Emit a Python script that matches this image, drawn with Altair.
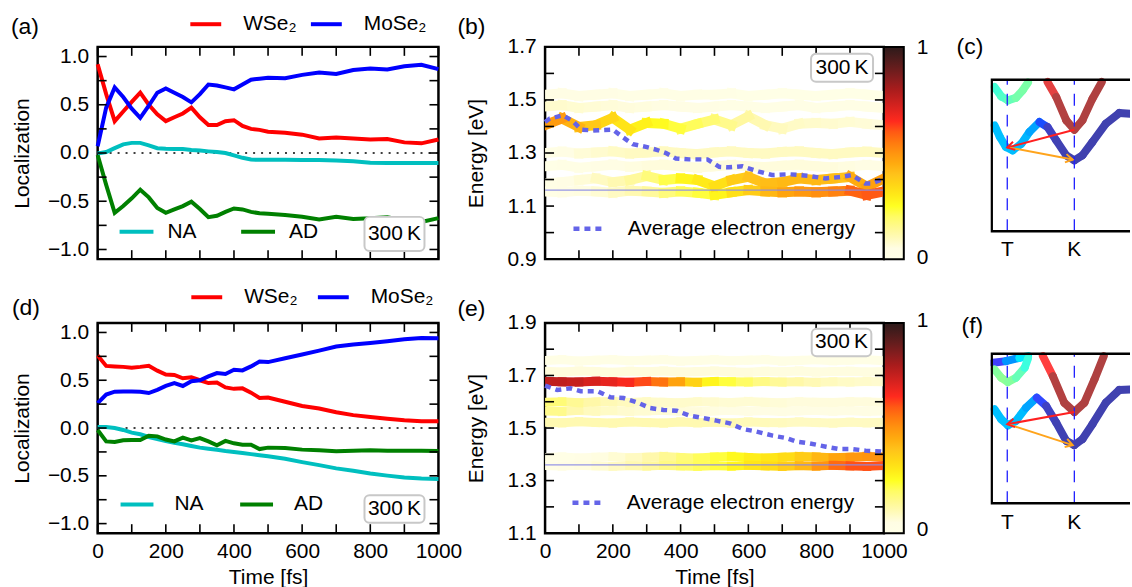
import math
import altair as alt
import pandas as pd

FONT = "Liberation Sans"

# ---------------- (a) / (d) localization data ----------------
t_loc = [0, 25, 50, 75, 100, 125, 150, 175, 200, 225, 250, 275, 300, 325, 350, 375, 400, 425, 450, 475, 500,
         550, 600, 650, 700, 750, 800, 850, 900, 950, 1000]

a_wse2 = [0.92, 0.61, 0.33, 0.43, 0.53, 0.625, 0.50, 0.40, 0.33, 0.37, 0.41, 0.47, 0.37, 0.29, 0.29, 0.33, 0.34, 0.28,
          0.25, 0.24, 0.22, 0.21, 0.19, 0.15, 0.16, 0.15, 0.14, 0.145, 0.11, 0.10, 0.14]
a_mose2 = [0.07, 0.47, 0.68, 0.58, 0.46, 0.365, 0.49, 0.625, 0.67, 0.625, 0.58, 0.525, 0.61, 0.71, 0.70, 0.68, 0.66,
           0.71, 0.76, 0.77, 0.78, 0.775, 0.81, 0.835, 0.82, 0.86, 0.875, 0.865, 0.90, 0.915, 0.87]
a_na = [-0.005, 0.01, 0.05, 0.09, 0.105, 0.105, 0.08, 0.05, 0.045, 0.042, 0.042, 0.032, 0.025, 0.017, 0.01, 0.0,
        -0.025, -0.05, -0.068, -0.07, -0.07, -0.07, -0.072, -0.072, -0.078, -0.085, -0.1, -0.104, -0.104, -0.104, -0.104]
a_ad = [-0.02, -0.33, -0.62, -0.55, -0.47, -0.38, -0.46, -0.57, -0.62, -0.585, -0.55, -0.505, -0.58, -0.665, -0.65,
        -0.61, -0.575, -0.585, -0.61, -0.625, -0.63, -0.642, -0.66, -0.69, -0.66, -0.685, -0.677, -0.665, -0.70,
        -0.715, -0.675]

d_wse2 = [0.76, 0.65, 0.645, 0.64, 0.63, 0.64, 0.652, 0.60, 0.56, 0.555, 0.52, 0.53, 0.50, 0.47, 0.475, 0.425, 0.41,
          0.415, 0.37, 0.315, 0.32, 0.275, 0.23, 0.205, 0.165, 0.135, 0.115, 0.097, 0.082, 0.071, 0.07]
d_mose2 = [0.26, 0.35, 0.38, 0.383, 0.383, 0.38, 0.366, 0.40, 0.44, 0.47, 0.44, 0.49, 0.50, 0.54, 0.575, 0.565, 0.61,
           0.603, 0.645, 0.695, 0.69, 0.73, 0.77, 0.81, 0.853, 0.874, 0.89, 0.908, 0.928, 0.941, 0.94]
d_na = [0.01, 0.01, 0.0, -0.02, -0.048, -0.065, -0.094, -0.115, -0.135, -0.155, -0.17, -0.188, -0.205, -0.217, -0.228,
        -0.24, -0.25, -0.261, -0.273, -0.284, -0.296, -0.322, -0.357, -0.388, -0.422, -0.447, -0.476, -0.498, -0.517,
        -0.528, -0.533]
d_ad = [-0.02, -0.14, -0.145, -0.128, -0.125, -0.125, -0.08, -0.087, -0.12, -0.14, -0.10, -0.13, -0.105, -0.14, -0.18,
        -0.135, -0.16, -0.174, -0.174, -0.22, -0.205, -0.21, -0.226, -0.233, -0.244, -0.238, -0.233, -0.237, -0.237,
        -0.237, -0.24]

loc_label_ticks = [-1.0, -0.5, 0.0, 0.5, 1.0]
loc_minor_ticks = [-1.0, -0.75, -0.5, -0.25, 0.0, 0.25, 0.5, 0.75, 1.0]
time_label_ticks = [0, 200, 400, 600, 800, 1000]
time_minor_ticks = [0, 100, 200, 300, 400, 500, 600, 700, 800, 900, 1000]

# ---------------- (b) / (e) energy-resolved populations ----------------
t_band = [0, 50, 100, 150, 200, 250, 300, 350, 400, 450, 500, 550, 600, 650, 700, 750, 800, 850, 900, 950, 1000]

b_lvl1_e = [1.52, 1.525, 1.515, 1.52, 1.525, 1.515, 1.52, 1.525, 1.515, 1.52, 1.52, 1.525, 1.515, 1.52, 1.525, 1.52,
            1.515, 1.52, 1.525, 1.52, 1.515]
b_lvl1_p = [0.05, 0.05, 0.045, 0.045, 0.04, 0.04, 0.035, 0.035, 0.03, 0.03, 0.025, 0.025, 0.02, 0.02, 0.02, 0.015,
            0.015, 0.015, 0.015, 0.015, 0.015]
b_lvl2_e = [1.475, 1.48, 1.47, 1.475, 1.48, 1.47, 1.475, 1.48, 1.475, 1.47, 1.475, 1.48, 1.475, 1.47, 1.475, 1.48,
            1.47, 1.475, 1.48, 1.475, 1.47]
b_lvl2_p = [0.08, 0.075, 0.07, 0.065, 0.06, 0.06, 0.055, 0.05, 0.05, 0.045, 0.04, 0.04, 0.035, 0.035, 0.03, 0.03,
            0.03, 0.03, 0.03, 0.03, 0.03]
b_lvl3_e = [1.405, 1.43, 1.398, 1.405, 1.433, 1.388, 1.413, 1.41, 1.392, 1.41, 1.426, 1.405, 1.438, 1.405, 1.392,
            1.41, 1.413, 1.41, 1.417, 1.41, 1.405]
b_lvl3_p = [0.5, 0.47, 0.4, 0.37, 0.33, 0.3, 0.27, 0.25, 0.22, 0.2, 0.17, 0.14, 0.12, 0.1, 0.09, 0.08, 0.08, 0.07,
            0.07, 0.06, 0.06]
b_lvl4_e = [1.30, 1.305, 1.298, 1.302, 1.306, 1.298, 1.302, 1.306, 1.30, 1.296, 1.302, 1.306, 1.30, 1.298, 1.304,
            1.306, 1.30, 1.296, 1.302, 1.305, 1.30]
b_lvl4_p = [0.02, 0.04, 0.06, 0.07, 0.08, 0.09, 0.09, 0.09, 0.09, 0.09, 0.09, 0.09, 0.09, 0.09, 0.09, 0.09, 0.09,
            0.09, 0.09, 0.09, 0.09]
b_lvl5_e = [1.25, 1.255, 1.245, 1.25, 1.256, 1.248, 1.252, 1.256, 1.25, 1.245, 1.25, 1.255, 1.25, 1.247, 1.252, 1.256,
            1.25, 1.246, 1.25, 1.255, 1.25]
b_lvl5_p = [0.01, 0.02, 0.03, 0.04, 0.05, 0.05, 0.06, 0.06, 0.06, 0.06, 0.06, 0.06, 0.06, 0.06, 0.06, 0.06, 0.06,
            0.06, 0.05, 0.05, 0.05]
b_lvl6_e = [1.185, 1.19, 1.198, 1.204, 1.19, 1.198, 1.213, 1.198, 1.204, 1.198, 1.175, 1.198, 1.21, 1.185, 1.19,
            1.204, 1.198, 1.204, 1.21, 1.173, 1.204]
b_lvl6_p = [0.03, 0.04, 0.05, 0.08, 0.1, 0.12, 0.15, 0.2, 0.25, 0.3, 0.3, 0.35, 0.4, 0.4, 0.42, 0.42, 0.42, 0.4, 0.4,
            0.5, 0.45]
b_lvl7_e = [1.155, 1.152, 1.158, 1.155, 1.15, 1.158, 1.155, 1.15, 1.155, 1.15, 1.142, 1.152, 1.16, 1.155, 1.152,
            1.155, 1.152, 1.155, 1.158, 1.142, 1.155]
b_lvl7_p = [0.03, 0.04, 0.05, 0.06, 0.08, 0.1, 0.12, 0.15, 0.2, 0.22, 0.25, 0.3, 0.35, 0.4, 0.45, 0.48, 0.5, 0.52,
            0.55, 0.62, 0.58]

b_avg_t = [0, 14, 53, 82, 107, 141, 200, 229, 259, 298, 327, 357, 386, 425, 479, 514, 543, 582, 631, 670, 719, 778,
           827, 876, 905, 945, 964, 1000]
b_avg_e = [1.417, 1.43, 1.442, 1.42, 1.388, 1.385, 1.388, 1.36, 1.333, 1.323, 1.313, 1.30, 1.279, 1.276, 1.276,
           1.248, 1.246, 1.25, 1.23, 1.217, 1.22, 1.214, 1.204, 1.21, 1.217, 1.185, 1.185, 1.204]
b_base = 1.16
b_label_ticks = [0.9, 1.1, 1.3, 1.5, 1.7]
b_minor_ticks = [0.9, 1.0, 1.1, 1.2, 1.3, 1.4, 1.5, 1.6, 1.7]

e_lvl1_e = [1.757, 1.76, 1.755, 1.758, 1.76, 1.756, 1.758, 1.76, 1.755, 1.757, 1.76, 1.756, 1.758, 1.76, 1.755,
            1.757, 1.76, 1.756, 1.758, 1.76, 1.756]
e_lvl1_p = [0.04, 0.04, 0.04, 0.04, 0.04, 0.04, 0.04, 0.04, 0.035, 0.035, 0.035, 0.035, 0.035, 0.035, 0.035, 0.035,
            0.035, 0.035, 0.035, 0.035, 0.035]
e_lvl2_e = [1.716, 1.713, 1.717, 1.715, 1.712, 1.716, 1.714, 1.717, 1.713, 1.715, 1.717, 1.714, 1.712, 1.716, 1.714,
            1.717, 1.713, 1.715, 1.716, 1.713, 1.715]
e_lvl2_p = [0.06, 0.06, 0.06, 0.06, 0.06, 0.06, 0.06, 0.06, 0.06, 0.06, 0.06, 0.06, 0.06, 0.055, 0.055, 0.055, 0.055,
            0.055, 0.055, 0.055, 0.055]
e_lvl3_e = [1.678, 1.676, 1.675, 1.678, 1.676, 1.674, 1.677, 1.675, 1.676, 1.674, 1.677, 1.676, 1.675, 1.677, 1.675,
            1.676, 1.674, 1.676, 1.675, 1.677, 1.676]
e_lvl3_p = [0.76, 0.76, 0.74, 0.7, 0.68, 0.64, 0.6, 0.52, 0.42, 0.3, 0.25, 0.22, 0.18, 0.15, 0.13, 0.11, 0.1, 0.09,
            0.08, 0.08, 0.07]
e_lvl4_e = [1.598, 1.6, 1.596, 1.599, 1.601, 1.597, 1.6, 1.598, 1.596, 1.6, 1.599, 1.597, 1.601, 1.598, 1.596, 1.6,
            1.598, 1.597, 1.6, 1.599, 1.597]
e_lvl4_p = [0.2, 0.16, 0.13, 0.11, 0.1, 0.09, 0.08, 0.08, 0.08, 0.08, 0.07, 0.07, 0.07, 0.07, 0.06, 0.06, 0.06, 0.06,
            0.06, 0.06, 0.06]
e_lvl5_e = [1.565, 1.563, 1.567, 1.564, 1.566, 1.563, 1.565, 1.567, 1.564, 1.562, 1.565, 1.567, 1.564, 1.566, 1.563,
            1.565, 1.567, 1.564, 1.566, 1.563, 1.565]
e_lvl5_p = [0.18, 0.13, 0.1, 0.09, 0.08, 0.07, 0.07, 0.06, 0.06, 0.06, 0.05, 0.05, 0.05, 0.05, 0.05, 0.05, 0.05,
            0.05, 0.05, 0.05, 0.05]
e_lvl6_e = [1.522, 1.52, 1.524, 1.521, 1.519, 1.523, 1.521, 1.519, 1.523, 1.52, 1.522, 1.519, 1.523, 1.521, 1.52,
            1.523, 1.521, 1.519, 1.522, 1.52, 1.522]
e_lvl6_p = [0.11, 0.11, 0.11, 0.11, 0.11, 0.11, 0.11, 0.11, 0.11, 0.11, 0.11, 0.1, 0.1, 0.1, 0.09, 0.09, 0.09, 0.09,
            0.09, 0.09, 0.09]
e_lvl7_e = [1.388, 1.39, 1.386, 1.389, 1.391, 1.387, 1.389, 1.392, 1.388, 1.386, 1.39, 1.392, 1.388, 1.386, 1.389,
            1.392, 1.39, 1.387, 1.389, 1.392, 1.39]
e_lvl7_p = [0.02, 0.03, 0.04, 0.05, 0.06, 0.08, 0.1, 0.13, 0.16, 0.2, 0.22, 0.25, 0.28, 0.3, 0.32, 0.35, 0.4, 0.45,
            0.48, 0.5, 0.5]
e_lvl8_e = [1.357, 1.355, 1.358, 1.356, 1.354, 1.357, 1.355, 1.358, 1.356, 1.354, 1.357, 1.355, 1.358, 1.356, 1.354,
            1.357, 1.355, 1.358, 1.356, 1.354, 1.357]
e_lvl8_p = [0.03, 0.04, 0.05, 0.06, 0.08, 0.1, 0.12, 0.15, 0.18, 0.2, 0.22, 0.25, 0.3, 0.32, 0.35, 0.4, 0.45, 0.55,
            0.6, 0.62, 0.6]

e_avg_t = [0, 36, 75, 105, 154, 193, 232, 271, 310, 349, 388, 427, 467, 506, 545, 584, 623, 672, 711, 740, 779, 829,
           868, 907, 946, 1000]
e_avg_e = [1.661, 1.645, 1.651, 1.64, 1.64, 1.617, 1.614, 1.598, 1.576, 1.569, 1.566, 1.547, 1.538, 1.528, 1.518,
           1.496, 1.487, 1.471, 1.462, 1.449, 1.442, 1.429, 1.42, 1.42, 1.414, 1.41]
e_base = 1.36
e_label_ticks = [1.1, 1.3, 1.5, 1.7, 1.9]
e_minor_ticks = [1.1, 1.2, 1.3, 1.4, 1.5, 1.6, 1.7, 1.8, 1.9]

colorbar_labels = ["1", "0"]

# "300 K" annotation boxes: [t0, t1, y0, y1]
a_box = [783, 959, -0.662, -1.016]
d_box = [783, 959, -0.704, -0.99]
b_box = [785, 968, 1.674, 1.569]
e_box = [787, 963, 1.878, 1.773]

# ---------------- (c) / (f) band sketches ----------------
c_top_x = [-0.19, -0.09, 0.01, 0.13, 0.23, 0.31]
c_top_y = [0.952, 0.89, 0.864, 0.881, 0.93, 0.982]
c_top_w = [0.43, 0.45, 0.47, 0.49, 0.5, 0.5]
c_cb_x = [0.60, 0.73, 0.88, 1.0, 1.12, 1.27, 1.41]
c_cb_y = [0.985, 0.886, 0.732, 0.670, 0.732, 0.875, 0.985]
c_cb_w = [0.85, 0.97, 0.98, 0.98, 0.98, 0.98, 0.98]
c_vb_x = [-0.19, -0.11, -0.02, 0.08, 0.21, 0.33, 0.48, 0.60, 0.73, 0.88, 1.0, 1.12, 1.27, 1.47, 1.67, 1.83]
c_vb_y = [0.699, 0.622, 0.556, 0.534, 0.578, 0.655, 0.721, 0.688, 0.6, 0.501, 0.468, 0.501, 0.589, 0.71, 0.78, 0.776]
c_vb_w = [0.27, 0.27, 0.27, 0.27, 0.26, 0.25, 0.21, 0.06, 0.03, 0.02, 0.02, 0.02, 0.02, 0.02, 0.02, 0.02]
c_arr_x0 = [1.0, 0.035]
c_arr_y0 = [0.670, 0.552]
c_arr_x1 = [0.0, 0.975]
c_arr_y1 = [0.552, 0.473]

f_top_x = [-0.21, -0.02, 0.18, 0.31]
f_top_y = [0.94, 0.951, 0.973, 0.985]
f_top_w = [0.12, 0.12, 0.3, 0.38]
f_mid_x = [-0.19, -0.09, 0.01, 0.13, 0.26, 0.31]
f_mid_y = [0.896, 0.84, 0.811, 0.84, 0.907, 0.97]
f_mid_w = [0.5, 0.52, 0.52, 0.5, 0.46, 0.4]
f_cb_x = [0.53, 0.68, 0.85, 1.0, 1.15, 1.30, 1.44]
f_cb_y = [0.985, 0.851, 0.673, 0.611, 0.673, 0.829, 0.985]
f_cb_w = [0.78, 0.97, 0.98, 0.98, 0.98, 0.98, 0.98]
f_vb_x = [-0.19, -0.09, 0.01, 0.13, 0.28, 0.44, 0.58, 0.73, 0.88, 1.0, 1.12, 1.27, 1.47, 1.67, 1.83]
f_vb_y = [0.629, 0.562, 0.522, 0.551, 0.64, 0.707, 0.651, 0.54, 0.418, 0.389, 0.429, 0.529, 0.673, 0.758, 0.762]
f_vb_w = [0.27, 0.27, 0.27, 0.27, 0.26, 0.2, 0.06, 0.03, 0.02, 0.02, 0.02, 0.02, 0.02, 0.02, 0.02]
f_arr_x0 = [1.0, 0.01]
f_arr_y0 = [0.611, 0.529]
f_arr_x1 = [0.0, 0.975]
f_arr_y1 = [0.529, 0.389]

k_points = [0.0, 1.0]
k_names = ["T", "K"]

# ---------------- styling constants ----------------
W1, W2, W3 = 342, 340, 140
H1, H2 = 213, 211
HEAT_DOM = [0, 0.05, 0.12, 0.25, 0.4, 0.52, 0.65, 0.8, 0.92, 1]
HEAT_RANGE = ["#ffffff", "#fffde4", "#fff8a8", "#ffff22", "#ffc21a", "#ff8a12", "#ff2a1e", "#a81c1c", "#5a1c1c",
              "#2c1a1a"]
JET_DOM = [0, 0.125, 0.375, 0.625, 0.875, 1]
JET_RANGE = ["#4040a0", "#4040ff", "#40ffff", "#ffff40", "#ff4040", "#a04040"]


def frame_ticks(xs, ys, xa, ya, xt, yt, W, H, L=9):
    st = dict(color="black", strokeWidth=1.6)
    dfy = pd.DataFrame({"ty": yt})
    dfx = pd.DataFrame({"tx": xt})
    return [
        alt.Chart(dfy).mark_rule(**st).encode(y=alt.Y("ty:Q", scale=ys, axis=ya), x=alt.value(0), x2=alt.value(L)),
        alt.Chart(dfy).mark_rule(**st).encode(y=alt.Y("ty:Q", scale=ys, axis=ya), x=alt.value(W - L), x2=alt.value(W)),
        alt.Chart(dfx).mark_rule(**st).encode(x=alt.X("tx:Q", scale=xs, axis=xa), y=alt.value(0), y2=alt.value(L)),
        alt.Chart(dfx).mark_rule(**st).encode(x=alt.X("tx:Q", scale=xs, axis=xa), y=alt.value(H - L), y2=alt.value(H)),
    ]


def panel_label(text, dx, dy):
    return alt.Chart(pd.DataFrame({"lab": [text]})).mark_text(
        font=FONT, fontSize=23, align="left", baseline="alphabetic", color="black"
    ).encode(x=alt.value(dx), y=alt.value(dy), text="lab:N")


def fixed_text(text, dx, dy):
    return alt.Chart(pd.DataFrame({"lab": [text]})).mark_text(
        font=FONT, fontSize=21, align="left", baseline="middle", color="black"
    ).encode(x=alt.value(dx), y=alt.value(dy), text="lab:N")


def temp_box(box, xs, ys, xa, ya):
    df = pd.DataFrame({"x0": [box[0]], "x1": [box[1]], "y0": [box[2]], "y1": [box[3]],
                       "xc": [(box[0] + box[1]) / 2], "yc": [(box[2] + box[3]) / 2], "txt": ["300\u2009K"]})
    r = alt.Chart(df).mark_rect(fill="white", stroke="#c8c8c8", strokeWidth=2, cornerRadius=5).encode(
        x=alt.X("x0:Q", scale=xs, axis=xa), x2="x1:Q", y=alt.Y("y0:Q", scale=ys, axis=ya), y2="y1:Q")
    t = alt.Chart(df).mark_text(font=FONT, fontSize=21, align="center", baseline="middle", color="black").encode(
        x=alt.X("xc:Q", scale=xs, axis=xa), y=alt.Y("yc:Q", scale=ys, axis=ya), text="txt:N")
    return [r, t]


def time_axis():
    return alt.Axis(values=time_label_ticks, format="d", title="Time [fs]", ticks=False, tickSize=0, domain=False,
                    grid=False, labelPadding=7, titlePadding=6, labelFlush=False)


def loc_panel(wse2, mose2, na, ad, H, label, lpos, show_x, leg1, leg2, box):
    xs = alt.Scale(domain=[0, 1000], nice=False, zero=False)
    ys = alt.Scale(domain=[-1.1, 1.1], nice=False, zero=False)
    n = len(t_loc)
    df1 = pd.DataFrame({"t": t_loc * 2, "v": wse2 + mose2, "s": ["WSe\u2082"] * n + ["MoSe\u2082"] * n})
    df2 = pd.DataFrame({"t": t_loc * 2, "v": na + ad, "s": ["NA"] * n + ["AD"] * n})
    ya = alt.Axis(values=loc_label_ticks, format=".1f", title="Localization", ticks=False, tickSize=0,
                  domain=False, grid=False, labelPadding=9, titlePadding=15,
                  labelExpr="replace(datum.label, '-', '\u2212')")
    xa = time_axis() if show_x else None
    zero = alt.Chart(pd.DataFrame({"z": [0.0]})).mark_rule(color="black", strokeDash=[2, 6], strokeWidth=1.5).encode(
        y=alt.Y("z:Q", scale=ys, axis=ya))
    common = dict(orient="none", direction="horizontal", title=None, symbolType="stroke", symbolStrokeWidth=4,
                  labelFont=FONT, labelFontSize=21, padding=0, labelLimit=400)
    l2 = alt.Chart(df2).mark_line(strokeWidth=4).encode(
        x=alt.X("t:Q", scale=xs, axis=xa), y=alt.Y("v:Q", scale=ys, axis=ya),
        stroke=alt.Stroke("s:N", scale=alt.Scale(domain=["NA", "AD"], range=["#00bfbf", "#008000"]),
                          legend=alt.Legend(**common, **leg2)))
    l1 = alt.Chart(df1).mark_line(strokeWidth=4).encode(
        x=alt.X("t:Q", scale=xs, axis=xa), y=alt.Y("v:Q", scale=ys, axis=ya),
        color=alt.Color("s:N", scale=alt.Scale(domain=["WSe\u2082", "MoSe\u2082"], range=["#ff0000", "#0000ff"]),
                        legend=alt.Legend(**common, **leg1)))
    layers = [zero, l2, l1] + frame_ticks(xs, ys, xa, ya, time_minor_ticks, loc_minor_ticks, W1, H) \
        + temp_box(box, xs, ys, xa, ya)
    layers.append(panel_label(label, lpos[0], lpos[1]))
    return alt.layer(*layers).properties(width=W1, height=H)


def energy_panel(levels, avg_t, avg_e, base_e, ydom, lab_ticks, minor_ticks, H, label, lpos, show_x, legpos, box,
                 bw, cb_y):
    xs = alt.Scale(domain=[0, 1000], nice=False, zero=False)
    ys = alt.Scale(domain=ydom, nice=False, zero=False)
    rows = []
    for E, P in levels:
        for j in range(len(t_band) - 1):
            rows.append({"t0": t_band[j], "t1": t_band[j + 1], "e0": E[j], "e1": E[j + 1],
                         "p": (P[j] + P[j + 1]) / 2})
    seg = pd.DataFrame(rows).sort_values("p", kind="stable")
    ya = alt.Axis(values=lab_ticks, format=".1f", title="Energy [eV]", ticks=False, tickSize=0, domain=False,
                  grid=False, labelPadding=9, titlePadding=21)
    xa = time_axis() if show_x else None
    heat = alt.Chart(seg).mark_rule(strokeWidth=bw, strokeCap="square", clip=True).encode(
        x=alt.X("t0:Q", scale=xs, axis=xa), x2="t1:Q",
        y=alt.Y("e0:Q", scale=ys, axis=ya), y2="e1:Q",
        stroke=alt.Stroke("p:Q", scale=alt.Scale(domain=HEAT_DOM, range=HEAT_RANGE),
                          legend=alt.Legend(type="gradient", orient="none", legendX=W2, legendY=0,
                                            direction="vertical", gradientLength=H, gradientThickness=20,
                                            gradientStrokeColor="black", gradientStrokeWidth=2, labelExpr="''",
                                            labelFontSize=1, title=None, padding=0)))
    base = alt.Chart(pd.DataFrame({"b": [base_e]})).mark_rule(color="#8a8ae6", strokeWidth=1.3, opacity=0.9).encode(
        y=alt.Y("b:Q", scale=ys, axis=ya))
    dfa = pd.DataFrame({"t": avg_t, "e": avg_e, "lab": ["Average electron energy"] * len(avg_t)})
    avg = alt.Chart(dfa).mark_line(strokeWidth=4.5, strokeDash=[6, 5]).encode(
        x=alt.X("t:Q", scale=xs, axis=xa), y=alt.Y("e:Q", scale=ys, axis=ya),
        color=alt.Color("lab:N", scale=alt.Scale(domain=["Average electron energy"], range=["#6464e8"]),
                        legend=alt.Legend(orient="none", legendX=legpos[0], legendY=legpos[1], title=None,
                                          symbolType="stroke", symbolDash=[6, 5], symbolStrokeWidth=4.5,
                                          symbolSize=841, labelOffset=23, labelFont=FONT, labelFontSize=21,
                                          padding=0, labelLimit=400)))
    layers = [heat, base, avg] + frame_ticks(xs, ys, xa, ya, time_minor_ticks, minor_ticks, W2, H) \
        + temp_box(box, xs, ys, xa, ya)
    layers.append(fixed_text(colorbar_labels[0], W2 + 33, cb_y[0]))
    layers.append(fixed_text(colorbar_labels[1], W2 + 33, cb_y[1]))
    layers.append(panel_label(label, lpos[0], lpos[1]))
    return alt.layer(*layers).properties(width=W2, height=H)


def band_panel(curves, arrows, ydom, H, label, lpos, ky):
    xs = alt.Scale(domain=[-0.25, 1.83], nice=False, zero=False)
    ys = alt.Scale(domain=ydom, nice=False, zero=False)
    pxx = W3 / (1.83 + 0.25)
    pxy = H / (ydom[1] - ydom[0])
    rows = []
    for cx, cy, cw in curves:
        for j in range(len(cx) - 1):
            rows.append({"x0": cx[j], "x1": cx[j + 1], "y0": cy[j], "y1": cy[j + 1], "w": (cw[j] + cw[j + 1]) / 2})
    seg = pd.DataFrame(rows)
    curves_l = alt.Chart(seg).mark_rule(strokeWidth=8, strokeCap="round", clip=True).encode(
        x=alt.X("x0:Q", scale=xs, axis=None), x2="x1:Q", y=alt.Y("y0:Q", scale=ys, axis=None), y2="y1:Q",
        stroke=alt.Stroke("w:Q", scale=alt.Scale(domain=JET_DOM, range=JET_RANGE), legend=None))
    frame = alt.Chart(pd.DataFrame({"x0": [-0.232], "x1": [3.0], "y0": [0.0], "y1": [1.0]})).mark_rect(
        fillOpacity=0, stroke="black", strokeWidth=2.5, clip=True).encode(
        x=alt.X("x0:Q", scale=xs, axis=None), x2="x1:Q", y=alt.Y("y0:Q", scale=ys, axis=None), y2="y1:Q")
    dk = pd.DataFrame({"k": k_points, "y0": [0.0, 0.0], "y1": [1.0, 1.0], "name": k_names,
                       "ty": [ky, ky]})
    dashes = alt.Chart(dk).mark_rule(color="#2020ff", strokeWidth=1.3, strokeDash=[12, 9]).encode(
        x=alt.X("k:Q", scale=xs, axis=None), y=alt.Y("y0:Q", scale=ys, axis=None), y2="y1:Q")
    klab = alt.Chart(dk).mark_text(font=FONT, fontSize=21, align="center", baseline="middle", color="black").encode(
        x=alt.X("k:Q", scale=xs, axis=None), y=alt.Y("ty:Q", scale=ys, axis=None), text="name:N")
    x0, y0, x1, y1 = arrows
    ang = [math.degrees(math.atan2(-(y1[i] - y0[i]) * pxy, (x1[i] - x0[i]) * pxx)) % 360 for i in range(len(x0))]
    da = pd.DataFrame({"x0": x0, "y0": y0, "x1": x1, "y1": y1, "ang": ang, "kind": ["back", "fwd"]})
    ascale = alt.Scale(domain=["back", "fwd"], range=["#ff2020", "#ffa41c"])
    shafts = alt.Chart(da).mark_rule(strokeWidth=2).encode(
        x=alt.X("x0:Q", scale=xs, axis=None), x2="x1:Q", y=alt.Y("y0:Q", scale=ys, axis=None), y2="y1:Q",
        color=alt.Color("kind:N", scale=ascale, legend=None))
    heads = alt.Chart(da).mark_point(shape="M-1,-0.6L0,0L-1,0.6", filled=False, size=200, strokeWidth=2,
                                     opacity=1).encode(
        x=alt.X("x1:Q", scale=xs, axis=None), y=alt.Y("y1:Q", scale=ys, axis=None),
        angle=alt.Angle("ang:Q", scale=None),
        color=alt.Color("kind:N", scale=ascale, legend=None))
    layers = [curves_l, dashes, frame, shafts, heads, klab, panel_label(label, lpos[0], lpos[1])]
    return alt.layer(*layers).properties(width=W3, height=H, view=alt.ViewBackground(stroke="transparent"))


pa = loc_panel(a_wse2, a_mose2, a_na, a_ad, H1, "(a)", (-87, -13), False,
               dict(legendX=91, legendY=-40.5, labelOffset=20, columnPadding=6, symbolSize=961),
               dict(legendX=20, legendY=166.5, labelOffset=12, columnPadding=36, symbolSize=1156), a_box)
pd_ = loc_panel(d_wse2, d_mose2, d_na, d_ad, H2, "(d)", (-86, -8), True,
                dict(legendX=92, legendY=-43.5, labelOffset=20, columnPadding=12, symbolSize=961),
                dict(legendX=21, legendY=163.5, labelOffset=19, columnPadding=28, symbolSize=1089), d_box)

b_levels = [(b_lvl1_e, b_lvl1_p), (b_lvl2_e, b_lvl2_p), (b_lvl3_e, b_lvl3_p), (b_lvl4_e, b_lvl4_p),
            (b_lvl5_e, b_lvl5_p), (b_lvl6_e, b_lvl6_p), (b_lvl7_e, b_lvl7_p)]
e_levels = [(e_lvl1_e, e_lvl1_p), (e_lvl2_e, e_lvl2_p), (e_lvl3_e, e_lvl3_p), (e_lvl4_e, e_lvl4_p),
            (e_lvl5_e, e_lvl5_p), (e_lvl6_e, e_lvl6_p), (e_lvl7_e, e_lvl7_p), (e_lvl8_e, e_lvl8_p)]

pb = energy_panel(b_levels, b_avg_t, b_avg_e, b_base, [0.9, 1.7], b_label_ticks, b_minor_ticks, H1, "(b)",
                  (-88, -13), False, (26, 165.5), b_box, 10, (1, 212))
pe = energy_panel(e_levels, e_avg_t, e_avg_e, e_base, [1.1, 1.9], e_label_ticks, e_minor_ticks, H2, "(e)",
                  (-88, -6.5), True, (25, 163.5), e_box, 9, (-2, 208))

pc = band_panel([(c_top_x, c_top_y, c_top_w), (c_cb_x, c_cb_y, c_cb_w), (c_vb_x, c_vb_y, c_vb_w)],
                (c_arr_x0, c_arr_y0, c_arr_x1, c_arr_y1), [-0.184, 1.217], H1, "(c)", (-34, 7), -0.125)
pf = band_panel([(f_top_x, f_top_y, f_top_w), (f_mid_x, f_mid_y, f_mid_w), (f_cb_x, f_cb_y, f_cb_w),
                 (f_vb_x, f_vb_y, f_vb_w)],
                (f_arr_x0, f_arr_y0, f_arr_x1, f_arr_y1), [-0.2, 1.207], H2, "(f)", (-29, 10), -0.133)

chart = alt.concat(pa, pb, pc, pd_, pe, pf, columns=3, spacing={"row": 64, "column": 107}).resolve_scale(
    color="independent", stroke="independent"
).resolve_legend(color="independent", stroke="independent").properties(
    bounds="flush", padding={"left": 9, "top": 4, "right": 0, "bottom": 0}, background="white"
).configure_view(stroke="black", strokeWidth=2.5).configure_axis(
    labelFont=FONT, titleFont=FONT, labelFontSize=21, titleFontSize=21, titleFontWeight="normal",
    labelColor="black", titleColor="black"
).configure_legend(labelFont=FONT, labelFontSize=21, labelColor="black", gradientVerticalMaxLength=400,
                   gradientVerticalMinLength=50)

chart.save("out.html", embed_options={"renderer": "svg", "actions": False})
